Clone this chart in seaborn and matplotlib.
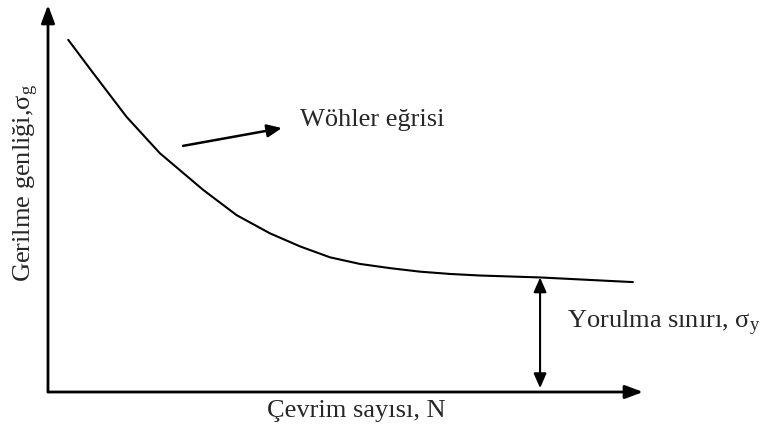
import pandas as pd
import matplotlib.pyplot as plt
import seaborn as sns

# Wöhler curve (arbitrary units, axes 0..100)
cycles = [3.4, 7.6, 13.2, 18.8, 26.1, 31.7, 37.3, 42.4, 47.4, 52.4, 57.5, 62.5, 67.6, 72.6, 82.7, 98.3]
stress = [91.0, 82.4, 71.1, 61.7, 52.2, 45.7, 41.0, 37.6, 34.8, 33.1, 32.0, 31.1, 30.5, 30.1, 29.6, 28.4]
limit_x = 82.7
limit_y = 29.6

df = pd.DataFrame({"N": cycles, "sigma": stress})

sns.set_style("white")
plt.rcParams["font.family"] = ["Liberation Serif", "DejaVu Serif"]
plt.rcParams["mathtext.fontset"] = "custom"
plt.rcParams["mathtext.rm"] = "Liberation Serif"
plt.rcParams["mathtext.it"] = "Liberation Serif:italic"

fig = plt.figure(figsize=(7.69, 4.30), dpi=100)
ax = fig.add_axes([48 / 769, 38 / 430, 595 / 769, 387 / 430])
line = sns.lineplot(data=df, x="N", y="sigma", color="black", linewidth=1.5, ax=ax)
for l in ax.lines:
    l.set_solid_joinstyle("round")
ax.set_xlim(0, 100)
ax.set_ylim(0, 100)
ax.set_xticks([])
ax.set_yticks([])
ax.set_xlabel("")
ax.set_ylabel("")
for s in ax.spines.values():
    s.set_visible(False)

axis_arrow = dict(arrowstyle="-|>,head_length=0.8,head_width=0.3", color="black",
                  lw=2, mutation_scale=13.5, shrinkA=0, shrinkB=0)
ax.annotate("", xy=(1, 0), xytext=(0, 0), xycoords="axes fraction", arrowprops=axis_arrow)
ax.annotate("", xy=(0, 1), xytext=(0, 0), xycoords="axes fraction", arrowprops=axis_arrow)

# pointer to the curve label
ax.annotate("", xy=(39.3, 68.2), xytext=(22.7, 63.6),
            arrowprops=dict(arrowstyle="-|>,head_length=0.8,head_width=0.35", color="black",
                            lw=1.8, mutation_scale=11, shrinkA=0, shrinkB=0))
ax.text(42.4, 70.3, "Wöhler eğrisi", fontsize=19, va="center", ha="left")

# fatigue limit
ax.annotate("", xy=(limit_x, limit_y), xytext=(limit_x, 1),
            arrowprops=dict(arrowstyle="<|-|>,head_length=0.8,head_width=0.35", color="black",
                            lw=1.5, mutation_scale=11, shrinkA=0, shrinkB=0))
ax.text(87.2, 17.8, "Yorulma sınırı, σ$_{\\mathrm{y}}$", fontsize=19, va="center", ha="left")

fig.text(356 / 769, 1 - 411 / 430, "Çevrim sayısı, N", fontsize=19, ha="center", va="center")
fig.text(26 / 769, 1 - 183 / 430, "Gerilme genliği,σ$_{\\mathrm{g}}$", fontsize=19,
         ha="center", va="center", rotation=90)

fig.savefig("out.png", dpi=100)
